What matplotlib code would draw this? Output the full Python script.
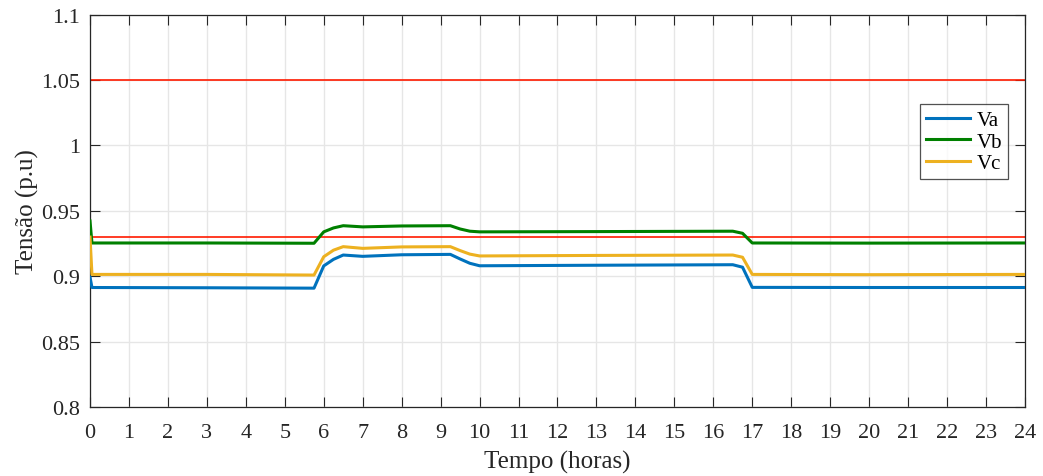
import matplotlib.pyplot as plt
from matplotlib.ticker import FuncFormatter

# Tensões por fase ao longo do dia (p.u)
tempo = [0, 0.05, 3, 5.75, 6.0, 6.25, 6.5, 7.0, 8.0, 9.25, 9.5, 9.75, 10.0, 13, 16.5, 16.75, 17.0, 20, 24]
va = [0.8995, 0.8915, 0.8913, 0.8910, 0.9080, 0.9130, 0.9163, 0.9153, 0.9165, 0.9168, 0.9133, 0.9100,
      0.9081, 0.9085, 0.9089, 0.9070, 0.8916, 0.8915, 0.8915]
vb = [0.9423, 0.9255, 0.9255, 0.9253, 0.9340, 0.9370, 0.9387, 0.9378, 0.9385, 0.9387, 0.9362, 0.9345,
      0.9340, 0.9342, 0.9345, 0.9329, 0.9255, 0.9254, 0.9255]
vc = [0.9300, 0.9015, 0.9015, 0.9010, 0.9150, 0.9200, 0.9227, 0.9214, 0.9225, 0.9227, 0.9197, 0.9170,
      0.9156, 0.9160, 0.9163, 0.9146, 0.9015, 0.9013, 0.9015]
limite_sup = 1.05
limite_inf = 0.93

plt.rcParams['font.family'] = ['Liberation Serif', 'DejaVu Serif']

fig = plt.figure(figsize=(10.43, 4.77), dpi=100)
ax = fig.add_axes([0.0863, 0.1440, 0.8964, 0.8235])

ax.axhline(limite_sup, color='#ff1a00', lw=1.2, zorder=2)
ax.axhline(limite_inf, color='#ff1a00', lw=1.2, zorder=2)
ax.plot(tempo, va, color='#0072BD', lw=2.2, label='Va', zorder=3)
ax.plot(tempo, vb, color='#008000', lw=2.2, label='Vb', zorder=3)
ax.plot(tempo, vc, color='#EDB120', lw=2.2, label='Vc', zorder=3)

ax.set_xlim(0, 24)
ax.set_ylim(0.8, 1.1)
ax.set_xticks(range(0, 25))
ax.set_yticks([0.8, 0.85, 0.9, 0.95, 1.0, 1.05, 1.1])
ax.yaxis.set_major_formatter(FuncFormatter(lambda v, p: f'{v:g}'))
ax.grid(True, color='#e6e6e6', lw=1.0, zorder=0)
ax.set_axisbelow(True)

ax.tick_params(direction='in', length=7, width=0.8, colors='#262626', labelsize=16,
               top=True, right=True, labelcolor='#262626')
ax.tick_params(axis='x', pad=11)
ax.tick_params(axis='y', pad=7)
for s in ax.spines.values():
    s.set_color('#262626')
    s.set_linewidth(0.9)

ax.set_xlabel('Tempo (horas)', fontsize=18, color='#262626', labelpad=6)
ax.set_ylabel('Tensão (p.u)', fontsize=18, color='#262626', labelpad=2)

leg = ax.legend(loc='upper right', bbox_to_anchor=(0.982, 0.772), fontsize=15, frameon=True,
                fancybox=False, edgecolor='#262626', handlelength=2.1, handletextpad=0.3,
                labelspacing=0.1, borderpad=0.3, borderaxespad=0)
leg.get_frame().set_linewidth(0.9)

fig.savefig('out.png', dpi=100)
